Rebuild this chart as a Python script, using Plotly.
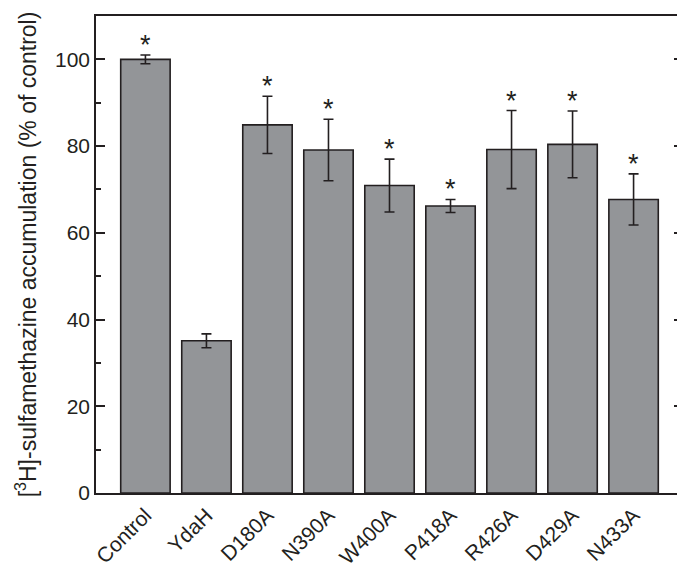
import plotly.graph_objects as go

categories = ["Control", "YdaH", "D180A", "N390A", "W400A", "P418A", "R426A", "D429A", "N433A"]
values = [100.0, 35.1, 84.9, 79.1, 70.9, 66.2, 79.2, 80.4, 67.7]
errors = [1.0, 1.6, 6.6, 7.1, 6.1, 1.5, 9.0, 7.7, 5.9]
significant = [True, False, True, True, True, True, True, True, True]

fig = go.Figure()
fig.add_trace(go.Bar(
    x=list(range(len(categories))), y=values,
    marker=dict(color="#939598", line=dict(color="#231f20", width=1.6)),
    error_y=dict(type="data", array=errors, visible=True, color="#231f20", thickness=1.6, width=5),
    width=0.81,
))

for i, (v, e, s) in enumerate(zip(values, errors, significant)):
    if s:
        fig.add_annotation(x=i, y=v + e, text="*", showarrow=False, yanchor="middle", yshift=10,
                           font=dict(family="Liberation Sans, Arial", size=27, color="#231f20"))

fig.update_layout(
    width=677, height=563,
    margin=dict(l=88, r=2, t=8, b=78),
    plot_bgcolor="white", paper_bgcolor="white",
    showlegend=False,
    font=dict(family="Liberation Sans, Arial", size=20, color="#231f20"),
)
fig.update_xaxes(
    range=[-0.81, 8.81], tickmode="array", tickvals=list(range(len(categories))), ticktext=categories,
    tickangle=-45, showgrid=False, zeroline=False, showline=True, linecolor="#231f20", linewidth=1.6,
    mirror=True, ticks="", tickfont=dict(size=21), automargin=False,
)
fig.update_yaxes(
    range=[0, 110], tickmode="array", tickvals=[0, 20, 40, 60, 80, 100],
    showgrid=False, zeroline=False, showline=True, linecolor="#231f20", linewidth=1.6, mirror="ticks",
    ticks="inside", ticklen=9, tickwidth=1.6, tickcolor="#231f20", tickfont=dict(size=21), automargin=False,
    minor=dict(tickvals=[10, 30, 50, 70, 90, 110], ticks="inside", ticklen=5, tickwidth=1.6, tickcolor="#231f20"),
    title=dict(text="[<sup>3</sup>H]-sulfamethazine accumulation (% of control)", font=dict(size=23), standoff=12),
)

fig.write_html("out.html")
